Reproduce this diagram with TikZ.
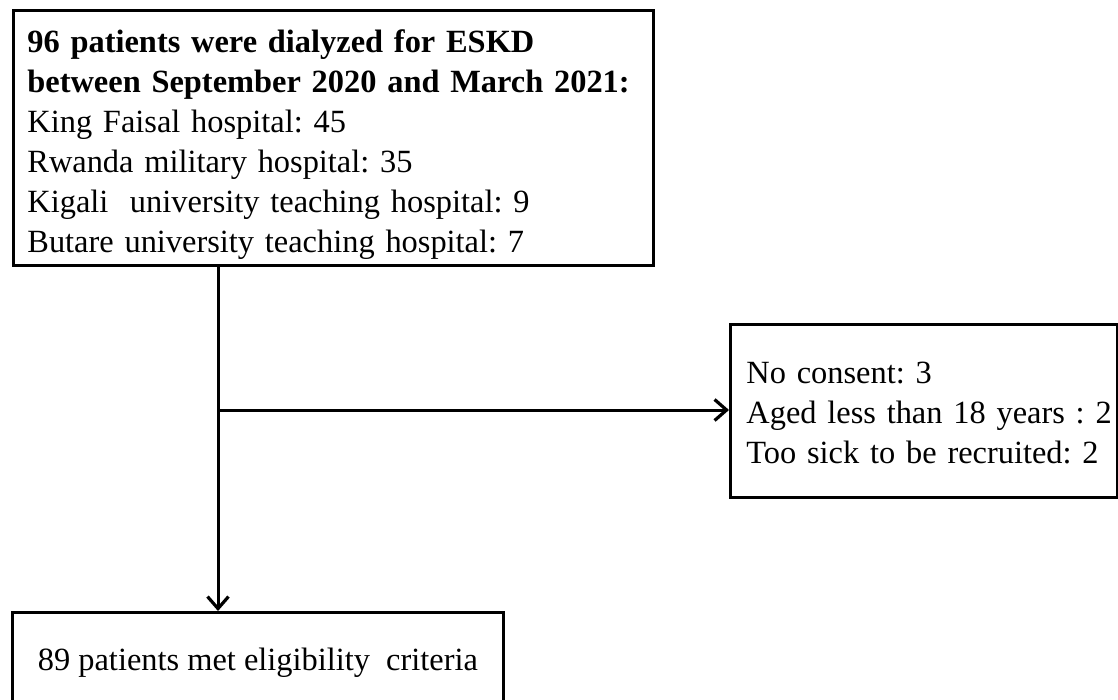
\documentclass[tikz,border=0pt]{standalone}
\usepackage{fontspec}
\setmainfont{Liberation Serif}
\usetikzlibrary{arrows.meta}
\frenchspacing
\begin{document}
\begin{tikzpicture}[x=1pt,y=-1pt,
  boxnode/.style={draw, line width=2.8pt, inner ysep=0pt, align=left,
    font=\fontsize{32.4}{40}\selectfont\frenchspacing, anchor=north west},
  arr/.style={line width=3pt, -{Straight Barb[length=12pt,width=21pt,line width=3.2pt]}}]
\useasboundingbox (0,0) rectangle (1118,699);
\node[boxnode, inner xsep=14pt, text width=612pt] (top) at (12,9)
  {\mbox{\rule{0pt}{42pt}\textbf{96 patients were dialyzed for ESKD}}\\
   \mbox{\textbf{between September 2020 and March 2021:}}\\
   \mbox{King Faisal hospital: 45}\\
   \mbox{Rwanda military hospital: 35}\\
   \mbox{Kigali\ \ university teaching hospital: 9}\\
   \mbox{Butare university teaching hospital: 7\rule[-13pt]{0pt}{13pt}}};
\node[boxnode, inner xsep=16pt, text width=355pt] (excl) at (729,323)
  {\mbox{\rule{0pt}{58.7pt}No consent: 3}\\
   \mbox{Aged less than 18 years : 2}\\
   \mbox{Too sick to be recruited: 2\rule[-34.3pt]{0pt}{34.3pt}}};
\node[boxnode, align=center, minimum width=491pt, inner xsep=0pt] (bot) at (11,611)
  {\rule[-60pt]{0pt}{118pt}89 patients met eligibility\ \ criteria};
\coordinate (j) at (218,410);
\draw[arr] (j |- top.south) -- (j |- bot.north);
\draw[arr] (j) -- (excl.west |- j);
\end{tikzpicture}
\end{document}
